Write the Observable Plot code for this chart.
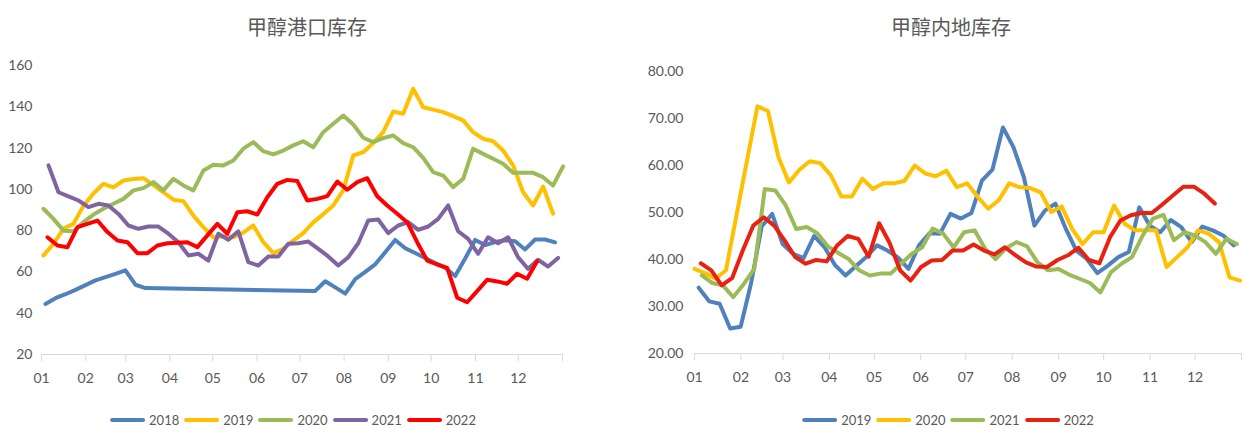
<!DOCTYPE html>
<html><head><meta charset="utf-8">
<script src="https://cdn.jsdelivr.net/npm/d3@7"></script>
<script src="https://cdn.jsdelivr.net/npm/@observablehq/plot@0.6"></script>
<style>
body{margin:0;background:#fff;}
#wrap{position:relative;width:1242px;height:428px;overflow:hidden;font-family:Lato,"Noto Sans",sans-serif;}
.panel{position:absolute;top:0;height:428px;}
.title{position:absolute;top:12px;font-family:"Noto Sans CJK SC";font-size:20px;color:#595959;white-space:nowrap;transform:translateX(-50%);line-height:30px}
.chart{position:absolute;top:50px;left:0}
.legend{position:absolute;top:410px;display:flex;align-items:center;transform:translateX(-50%);font-size:13px;color:#595959;white-space:nowrap;line-height:20px}
.sw{display:inline-block;width:35px;height:4px;border-radius:2px;margin:0 4px 0 5px}
</style>
</head><body>
<div id="wrap">
  <div class="panel" id="left" style="left:0;width:620px">
    <div class="title" style="left:307px">甲醇港口库存</div>
    <div class="chart" id="leftChart"></div>
    <div class="legend" id="leftLegend" style="left:293px"></div>
  </div>
  <div class="panel" id="right" style="left:620px;width:622px">
    <div class="title" style="left:331px">甲醇内地库存</div>
    <div class="chart" id="rightChart"></div>
    <div class="legend" id="rightLegend" style="left:328px"></div>
  </div>
</div>
<script>
// ---- shared x axis (weeks of the year, ticks at month starts) ----
const monthLabels = ["01","02","03","04","05","06","07","08","09","10","11","12"];
const monthStartDays = [0,31,59,90,120,151,181,212,243,273,304,334];
const daysInYear = 365;

// ---- 甲醇港口库存 (port inventory) ----
const portYears = ["2018","2019","2020","2021","2022"];
const portColors = ["#4F81BD","#FFC000","#9BBB59","#8064A2","#FF0000"];
const portFirstWeek = [0.4, 0.2, 0.2, 0.7, 0.6];
const portTicks = [20,40,60,80,100,120,140,160];
const port2018 = [44.5,47.3,49.2,51.3,53.6,55.9,57.5,59.1,60.8,53.8,52.2,
  null,null,null,null,null,null,null,null,null,null,null,null,null,null,null,null,
  50.8,55.5,52.5,49.5,56.5,60,63.7,69.5,75.5,71.5,69.2,66.7,64.3,62,58,66.5,75.5,73,74.5,75.3,74.9,70.9,75.7,75.7,74.3];
const port2019 = [68,73.6,81,83.3,92,98,102.7,101,104.3,105,
  105.4,102,98.6,95,94.3,87.3,81.7,76.8,77.2,76.8,
  79,82.5,74.4,69.1,71.2,75.2,78.8,84,88,92.2,
  99.5,116.4,118,122.5,127.7,137.7,136.6,148.7,139.8,138.6,
  137.4,135.5,133.4,127.7,124.5,123.3,118.8,111.6,98.6,92.2,
  101.4,88.2];
const port2020 = [90.6,85.7,80,79.7,84.1,87.8,90.6,93,95.4,99.5,
  100.6,103.5,99.5,105.1,101.9,99.5,109.1,111.9,111.6,114,
  119.7,122.9,118.5,116.9,118.8,121.3,123.3,120.4,127.7,131.8,
  135.8,131.4,125,122.9,124.8,126.1,122.4,120.4,115.3,108.3,
  106.7,101.1,105.1,119.7,117.2,114.8,112.4,108,108,108,
  105.9,101.9,111.1];
const port2021 = [111.6,98.6,96.6,94.6,91.4,93,92.2,88.1,82.5,80.9,
  82,82,78.5,74.4,68,68.8,65.5,78.5,75.6,79.7,
  64.7,63.1,67.5,67.5,73.6,73.9,74.7,71.2,67.5,63.1,
  67.1,73.9,84.9,85.4,78.8,82.5,84.1,80.4,82,85.7,
  92.2,79.7,76,68.8,76.8,73.9,76.8,67.1,61.5,65.9,
  62.6,66.8];
const port2022 = [76.8,72.8,72,81.7,83.3,84.9,79.3,75.2,74.4,69.1,
  69.1,72.8,73.9,74.1,74.4,72,77.7,83.3,78.5,88.9,
  89.4,87.8,96.2,102.7,104.6,104,94.6,95.4,96.7,103.8,
  99.8,103.5,105.4,96.7,92.2,88.2,84.1,74.4,65.5,63.6,
  62,47.5,45.3,50.7,56.2,55.4,54.3,59.1,56.7,65.2];
const portSeries = [port2018, port2019, port2020, port2021, port2022];

// ---- 甲醇内地库存 (inland inventory) ----
const inlandYears = ["2019","2020","2021","2022"];
const inlandColors = ["#4F81BD","#FFC000","#9BBB59","#E8220F"];
const inlandFirstWeek = [0.4, 0, 0.7, 0.6];
const inlandTicks = [20,30,40,50,60,70,80];
const inland2019 = [34,31.1,30.6,25.3,25.7,35,47,49.7,43.3,41.2,
  40.3,45,42.6,38.8,36.6,38.6,40.6,43,41.9,40.4,
  38,43,45.6,45.5,49.7,48.7,49.9,56.8,59.1,68.1,
  63.9,57.5,47.2,50.4,51.9,46.5,41.9,40.1,37.1,38.7,
  40.5,41.6,51.1,47.2,45.8,48.4,46.9,43.7,47,46.2,
  45.1,43];
const inland2020 = [38,37.1,35.9,37.7,49.4,61,72.6,71.6,61.8,56.4,
  59.1,60.9,60.5,57.9,53.4,53.4,57.2,55,56.2,56.2,
  56.7,60,58.3,57.7,58.9,55.4,56.2,53.3,50.8,52.6,
  56.2,55.4,55.2,54.3,50.1,51.3,46.5,43.3,45.8,45.8,
  51.5,47.6,46.2,46.2,46.2,38.4,40.5,42.6,46.2,45.5,
  43.7,36.2,35.5];
const inland2021 = [36.6,35,34.5,32,34.8,38,55,54.7,51.5,46.5,
  46.9,45.6,42.8,41.4,40.1,37.7,36.6,37,37,39.1,
  41.2,42.6,46.6,45.5,42.6,45.8,46.2,42.3,40.1,42.4,
  43.7,42.8,39.4,37.7,38,36.8,35.9,35,33,37.3,
  39.1,40.5,45,48.7,49.5,44.1,45.8,45.1,43.7,41.2,
  44.4,43.3];
const inland2022 = [39.2,37.7,34.5,36.1,41.9,47.2,49,47.2,44,40.5,
  39.1,39.9,39.6,43,45,44.4,40.6,47.7,43.5,37.7,
  35.5,38.4,39.8,39.9,41.9,41.9,43.2,41.9,41.1,42.6,
  40.9,39.4,38.5,38.4,39.9,40.9,42.5,39.9,39.2,44.7,
  48.3,49.4,49.9,49.9,51.7,53.6,55.5,55.5,54,51.9];
const inlandSeries = [inland2019, inland2020, inland2021, inland2022];

// ---- build ----
const weekEnd = daysInYear / 7;
const monthPos = monthStartDays.map(d => d / 7);
const labelByPos = new Map(monthPos.map((p, i) => [p, monthLabels[i]]));
const tickPos = [...monthPos, weekEnd];

function toRows(values, start) {
  return values.map((v, i) => ({p: start + i, v})).filter(d => d.v != null);
}

function makeChart(cfg) {
  const ymin = cfg.ydomain[0];
  const lines = cfg.series.map((vals, i) =>
    Plot.line(toRows(vals, cfg.first[i]), {
      x: "p", y: "v", stroke: cfg.colors[i], strokeWidth: 4,
      strokeLinejoin: "round", strokeLinecap: "round"
    }));
  return Plot.plot({
    width: cfg.width, height: 345,
    marginLeft: cfg.ml, marginRight: cfg.mr, marginTop: cfg.mt, marginBottom: cfg.mb,
    x: {domain: [0, weekEnd], ticks: monthPos, tickFormat: d => labelByPos.get(d), tickSize: 0, tickPadding: 19, label: null},
    y: {domain: cfg.ydomain, ticks: cfg.ticks, tickFormat: cfg.fmt, tickSize: 0, tickPadding: cfg.ypad, label: null},
    style: {fontFamily: "Lato, 'Noto Sans', sans-serif", fontSize: "14px", color: "#595959", background: "transparent", overflow: "visible"},
    marks: [
      Plot.ruleY([ymin], {stroke: "#d9d9d9", strokeWidth: 1}),
      Plot.ruleX(tickPos, {y1: ymin, y2: ymin, insetBottom: -7, stroke: "#d9d9d9", strokeWidth: 1}),
      ...lines
    ]
  });
}

document.getElementById("leftChart").append(makeChart({
  width: 620, ml: 41, mr: 58, mt: 15, mb: 41, ydomain: [20, 160], ticks: portTicks, ypad: 9,
  fmt: d => String(d), series: portSeries, first: portFirstWeek, colors: portColors
}));
document.getElementById("rightChart").append(makeChart({
  width: 622, ml: 74, mr: 1, mt: 21, mb: 42, ydomain: [20, 80], ticks: inlandTicks, ypad: 11,
  fmt: d3.format(".2f"), series: inlandSeries, first: inlandFirstWeek, colors: inlandColors
}));

function legend(id, years, colors) {
  const el = document.getElementById(id);
  years.forEach((y, i) => {
    const item = document.createElement("span");
    item.style.display = "inline-flex";
    item.style.alignItems = "center";
    const sw = document.createElement("span");
    sw.className = "sw";
    sw.style.background = colors[i];
    if (i === 0) sw.style.marginLeft = "0";
    const t = document.createElement("span");
    t.textContent = y;
    item.append(sw, t);
    el.append(item);
  });
}
legend("leftLegend", portYears, portColors);
legend("rightLegend", inlandYears, inlandColors);
</script>
</body></html>
